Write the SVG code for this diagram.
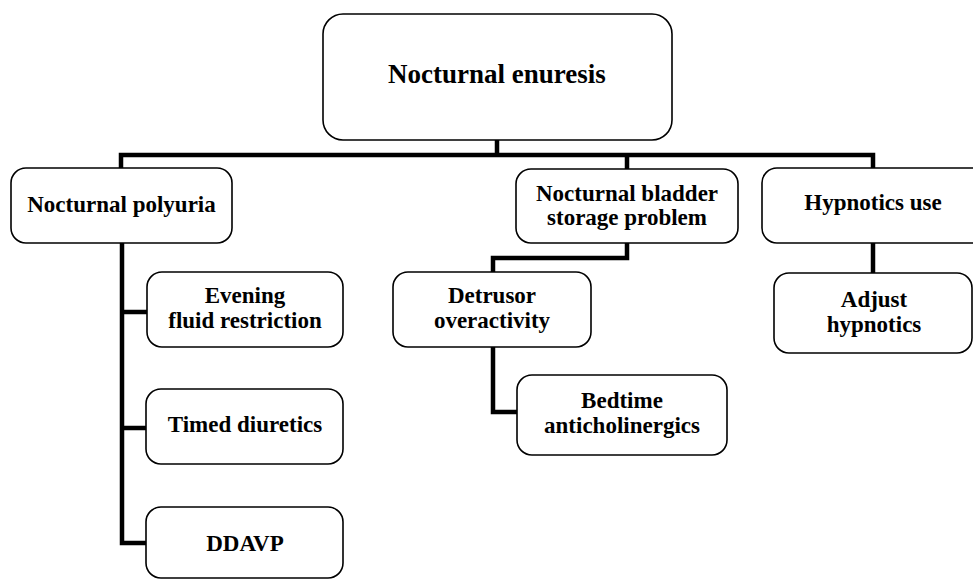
<svg xmlns="http://www.w3.org/2000/svg" width="973" height="579" viewBox="0 0 973 579">
<style>
.box{fill:#fff;stroke:#000;stroke-width:1.6}
.t{font-family:"Liberation Serif","Times New Roman",serif;font-weight:bold;font-size:23px;text-anchor:middle;fill:#000}
.big{font-size:27px}
.c{fill:none;stroke:#000;stroke-width:4.5;stroke-linejoin:miter;stroke-linecap:square}
</style>
<rect width="973" height="579" fill="#fff"/>
<g id="connectors">
<path class="c" d="M497,141 V155 M121,168 V155 H873 V168 M627,155 V169"/>
<path class="c" d="M122,244 V543 H146 M122,312 H146 M122,428 H146"/>
<path class="c" d="M627,244 V258 H493 V271"/>
<path class="c" d="M493,348 V412 H516"/>
<path class="c" d="M873,244 V272"/>
</g>
<g id="n-root"><rect class="box" x="323" y="14" width="349" height="126" rx="20"/><text class="t big" x="497" y="83">Nocturnal enuresis</text></g>
<g id="n-polyuria"><rect class="box" x="11" y="168" width="221" height="75" rx="15"/><text class="t" x="121.5" y="212">Nocturnal polyuria</text></g>
<g id="n-evening"><rect class="box" x="147" y="272" width="196" height="75" rx="15"/><text class="t" x="245" y="303">Evening</text><text class="t" x="245" y="328">fluid restriction</text></g>
<g id="n-timed"><rect class="box" x="146" y="389" width="197" height="75" rx="15"/><text class="t" x="245" y="432">Timed diuretics</text></g>
<g id="n-ddavp"><rect class="box" x="146" y="507" width="197" height="71" rx="15"/><text class="t" x="245" y="551">DDAVP</text></g>
<g id="n-bladder"><rect class="box" x="516" y="169" width="222" height="74" rx="15"/><text class="t" x="627" y="201">Nocturnal bladder</text><text class="t" x="627" y="225">storage problem</text></g>
<g id="n-detrusor"><rect class="box" x="393" y="272" width="198" height="75" rx="15"/><text class="t" x="492" y="303">Detrusor</text><text class="t" x="492" y="328">overactivity</text></g>
<g id="n-bedtime"><rect class="box" x="517" y="375" width="210" height="80" rx="15"/><text class="t" x="622" y="408">Bedtime</text><text class="t" x="622" y="433">anticholinergics</text></g>
<g id="n-hypnotics"><rect class="box" x="762" y="168" width="230" height="75" rx="15"/><text class="t" x="873" y="210">Hypnotics use</text></g>
<g id="n-adjust"><rect class="box" x="774" y="273" width="198" height="80" rx="15"/><text class="t" x="874" y="307">Adjust</text><text class="t" x="874" y="332">hypnotics</text></g>
</svg>
